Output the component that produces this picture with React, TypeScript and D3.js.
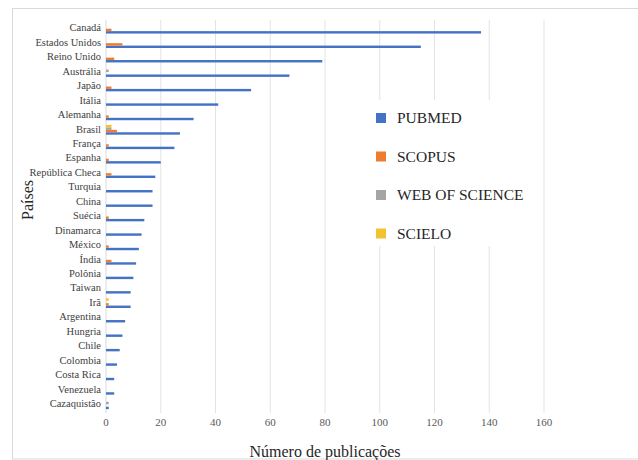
import React from 'react';
import * as d3 from 'd3';

const countries = [
  'Canadá', 'Estados Unidos', 'Reino Unido', 'Austrália', 'Japão', 'Itália', 'Alemanha', 'Brasil',
  'França', 'Espanha', 'República Checa', 'Turquia', 'China', 'Suécia', 'Dinamarca', 'México',
  'Índia', 'Polônia', 'Taiwan', 'Irã', 'Argentina', 'Hungria', 'Chile', 'Colombia', 'Costa Rica',
  'Venezuela', 'Cazaquistão',
];

const pubmed = [137, 115, 79, 67, 53, 41, 32, 27, 25, 20, 18, 17, 17, 14, 13, 12, 11, 10, 9, 9, 7, 6, 5, 4, 3, 3, 1];
const scopus = [2, 6, 3, 0, 2, 0, 1, 4, 1, 1, 2, 0, 0, 1, 0, 1, 2, 0, 0, 1, 0, 0, 0, 0, 0, 0, 0];
const webOfScience = [0, 0, 0, 1, 0, 0, 0, 2, 0, 0, 0, 0, 0, 0, 0, 0, 0, 0, 0, 0, 0, 0, 0, 0, 0, 0, 1];
const scielo = [0, 0, 0, 0, 0, 0, 0, 2, 0, 0, 0, 0, 0, 0, 0, 0, 0, 0, 0, 1, 0, 0, 0, 0, 0, 0, 0];

const seriesNames = ['PUBMED', 'SCOPUS', 'WEB OF SCIENCE', 'SCIELO'];
const seriesValues = [pubmed, scopus, webOfScience, scielo];
const colors = ['#4472C4', '#ED7D31', '#A5A5A5', '#F2C233'];
const xTicks = [0, 20, 40, 60, 80, 100, 120, 140, 160];

const W = 638;
const H = 460;
const font = "'Liberation Serif', Tinos, 'Times New Roman', 'DejaVu Serif', serif";

const App: React.FC = () => {
  const x = d3.scaleLinear().domain([0, 160]).range([106, 544]);
  const y = d3.scaleBand<string>()
    .domain(countries)
    .range([21.5, 411.5])
    .paddingInner(0.33)
    .paddingOuter(0.165);
  // top to bottom inside a group: SCIELO, WoS, SCOPUS, PUBMED
  const sub = d3.scaleBand<string>()
    .domain([...seriesNames].reverse())
    .range([0, y.bandwidth()]);

  return (
    <svg width={W} height={H} style={{ position: 'absolute', left: 0, top: 0, background: '#fff', fontFamily: font }}>
      <rect x={12.5} y={8.5} width={640} height={450.5} fill="#fff" stroke="#d9d9d9" strokeWidth={1} />

      {xTicks.map(t => (
        <line key={'g' + t} x1={x(t)} x2={x(t)} y1={20} y2={413}
          stroke={t === 0 ? '#d9d9d9' : '#e3e3e3'} strokeWidth={1} />
      ))}

      {countries.map((c, i) => (
        <g key={c}>
          {seriesNames.map((s, k) => {
            const v = seriesValues[k][i];
            if (!v) return null;
            return (
              <rect key={s} x={x(0)} y={(y(c) as number) + (sub(s) as number)}
                width={x(v) - x(0)} height={sub.bandwidth()} fill={colors[k]} />
            );
          })}
          <text x={101} y={(y(c) as number) + y.bandwidth() / 2 - 1} dy="0.35em" textAnchor="end"
            style={{ fontFamily: font }} fontSize={10.5} fill="#404040">{c}</text>
        </g>
      ))}

      {xTicks.map(t => (
        <text key={'t' + t} x={x(t)} y={426} textAnchor="middle" style={{ fontFamily: font }}
          fontSize={11} fill="#595959">{t}</text>
      ))}

      <text x={325} y={457} textAnchor="middle" style={{ fontFamily: font }} fontSize={16} fill="#262626">
        Número de publicações
      </text>
      <text transform="translate(33,200) rotate(-90)" textAnchor="middle" style={{ fontFamily: font }}
        fontSize={16} fill="#262626">Países</text>

      <rect x={368} y={100} width={172} height={146} fill="#fff" />
      {seriesNames.map((s, k) => (
        <g key={'l' + s} transform={`translate(376, ${118 + k * 38.5})`}>
          <rect x={0} y={-5} width={10} height={10} fill={colors[k]} />
          <text x={21} y={0} dy="0.35em" style={{ fontFamily: font }} fontSize={15.5} fill="#262626">{s}</text>
        </g>
      ))}
    </svg>
  );
};

export default App;
